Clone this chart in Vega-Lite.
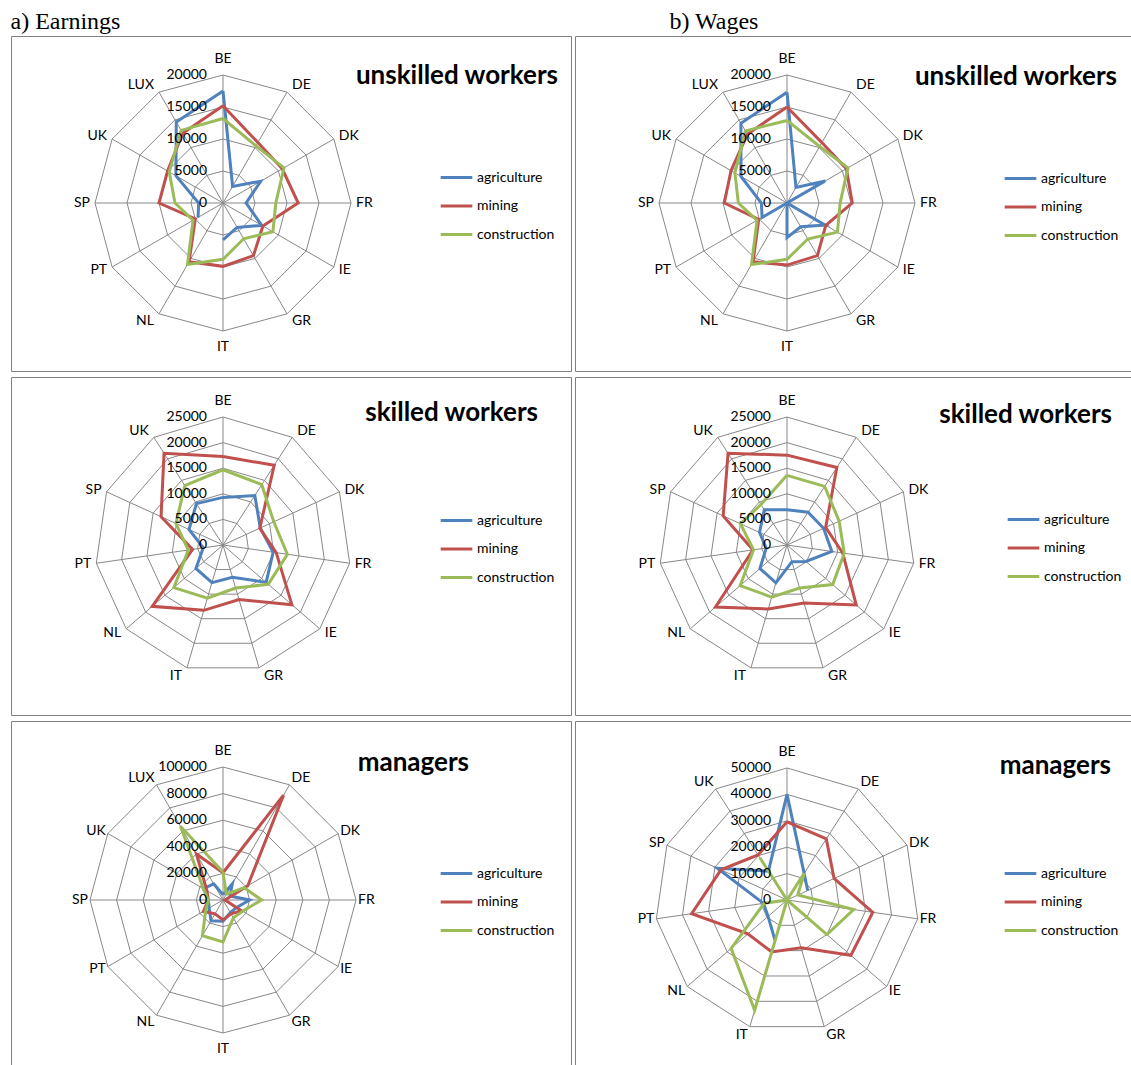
{
"$schema":"https://vega.github.io/schema/vega-lite/v6.json",
"padding":{"left":10,"top":9,"right":0,"bottom":0},
"autosize":{"type":"pad"},
"background":"white",
"config":{"view":{"stroke":"#808080","strokeWidth":1},"text":{"font":"Lato"}},
"datasets":{
"cats":[
{"p":"EU","i":0,"c":"BE","lv":[5000,10000,15000,20000]},{"p":"EU","i":1,"c":"DE","lv":[5000,10000,15000,20000]},{"p":"EU","i":2,"c":"DK","lv":[5000,10000,15000,20000]},{"p":"EU","i":3,"c":"FR","lv":[5000,10000,15000,20000]},{"p":"EU","i":4,"c":"IE","lv":[5000,10000,15000,20000]},{"p":"EU","i":5,"c":"GR","lv":[5000,10000,15000,20000]},{"p":"EU","i":6,"c":"IT","lv":[5000,10000,15000,20000]},{"p":"EU","i":7,"c":"NL","lv":[5000,10000,15000,20000]},{"p":"EU","i":8,"c":"PT","lv":[5000,10000,15000,20000]},{"p":"EU","i":9,"c":"SP","lv":[5000,10000,15000,20000]},{"p":"EU","i":10,"c":"UK","lv":[5000,10000,15000,20000]},{"p":"EU","i":11,"c":"LUX","lv":[5000,10000,15000,20000]},
{"p":"WU","i":0,"c":"BE","lv":[5000,10000,15000,20000]},{"p":"WU","i":1,"c":"DE","lv":[5000,10000,15000,20000]},{"p":"WU","i":2,"c":"DK","lv":[5000,10000,15000,20000]},{"p":"WU","i":3,"c":"FR","lv":[5000,10000,15000,20000]},{"p":"WU","i":4,"c":"IE","lv":[5000,10000,15000,20000]},{"p":"WU","i":5,"c":"GR","lv":[5000,10000,15000,20000]},{"p":"WU","i":6,"c":"IT","lv":[5000,10000,15000,20000]},{"p":"WU","i":7,"c":"NL","lv":[5000,10000,15000,20000]},{"p":"WU","i":8,"c":"PT","lv":[5000,10000,15000,20000]},{"p":"WU","i":9,"c":"SP","lv":[5000,10000,15000,20000]},{"p":"WU","i":10,"c":"UK","lv":[5000,10000,15000,20000]},{"p":"WU","i":11,"c":"LUX","lv":[5000,10000,15000,20000]},
{"p":"ES","i":0,"c":"BE","lv":[5000,10000,15000,20000,25000]},{"p":"ES","i":1,"c":"DE","lv":[5000,10000,15000,20000,25000]},{"p":"ES","i":2,"c":"DK","lv":[5000,10000,15000,20000,25000]},{"p":"ES","i":3,"c":"FR","lv":[5000,10000,15000,20000,25000]},{"p":"ES","i":4,"c":"IE","lv":[5000,10000,15000,20000,25000]},{"p":"ES","i":5,"c":"GR","lv":[5000,10000,15000,20000,25000]},{"p":"ES","i":6,"c":"IT","lv":[5000,10000,15000,20000,25000]},{"p":"ES","i":7,"c":"NL","lv":[5000,10000,15000,20000,25000]},{"p":"ES","i":8,"c":"PT","lv":[5000,10000,15000,20000,25000]},{"p":"ES","i":9,"c":"SP","lv":[5000,10000,15000,20000,25000]},{"p":"ES","i":10,"c":"UK","lv":[5000,10000,15000,20000,25000]},
{"p":"WS","i":0,"c":"BE","lv":[5000,10000,15000,20000,25000]},{"p":"WS","i":1,"c":"DE","lv":[5000,10000,15000,20000,25000]},{"p":"WS","i":2,"c":"DK","lv":[5000,10000,15000,20000,25000]},{"p":"WS","i":3,"c":"FR","lv":[5000,10000,15000,20000,25000]},{"p":"WS","i":4,"c":"IE","lv":[5000,10000,15000,20000,25000]},{"p":"WS","i":5,"c":"GR","lv":[5000,10000,15000,20000,25000]},{"p":"WS","i":6,"c":"IT","lv":[5000,10000,15000,20000,25000]},{"p":"WS","i":7,"c":"NL","lv":[5000,10000,15000,20000,25000]},{"p":"WS","i":8,"c":"PT","lv":[5000,10000,15000,20000,25000]},{"p":"WS","i":9,"c":"SP","lv":[5000,10000,15000,20000,25000]},{"p":"WS","i":10,"c":"UK","lv":[5000,10000,15000,20000,25000]},
{"p":"EM","i":0,"c":"BE","lv":[20000,40000,60000,80000,100000]},{"p":"EM","i":1,"c":"DE","lv":[20000,40000,60000,80000,100000]},{"p":"EM","i":2,"c":"DK","lv":[20000,40000,60000,80000,100000]},{"p":"EM","i":3,"c":"FR","lv":[20000,40000,60000,80000,100000]},{"p":"EM","i":4,"c":"IE","lv":[20000,40000,60000,80000,100000]},{"p":"EM","i":5,"c":"GR","lv":[20000,40000,60000,80000,100000]},{"p":"EM","i":6,"c":"IT","lv":[20000,40000,60000,80000,100000]},{"p":"EM","i":7,"c":"NL","lv":[20000,40000,60000,80000,100000]},{"p":"EM","i":8,"c":"PT","lv":[20000,40000,60000,80000,100000]},{"p":"EM","i":9,"c":"SP","lv":[20000,40000,60000,80000,100000]},{"p":"EM","i":10,"c":"UK","lv":[20000,40000,60000,80000,100000]},{"p":"EM","i":11,"c":"LUX","lv":[20000,40000,60000,80000,100000]},
{"p":"WM","i":0,"c":"BE","lv":[10000,20000,30000,40000,50000]},{"p":"WM","i":1,"c":"DE","lv":[10000,20000,30000,40000,50000]},{"p":"WM","i":2,"c":"DK","lv":[10000,20000,30000,40000,50000]},{"p":"WM","i":3,"c":"FR","lv":[10000,20000,30000,40000,50000]},{"p":"WM","i":4,"c":"IE","lv":[10000,20000,30000,40000,50000]},{"p":"WM","i":5,"c":"GR","lv":[10000,20000,30000,40000,50000]},{"p":"WM","i":6,"c":"IT","lv":[10000,20000,30000,40000,50000]},{"p":"WM","i":7,"c":"NL","lv":[10000,20000,30000,40000,50000]},{"p":"WM","i":8,"c":"PT","lv":[10000,20000,30000,40000,50000]},{"p":"WM","i":9,"c":"SP","lv":[10000,20000,30000,40000,50000]},{"p":"WM","i":10,"c":"UK","lv":[10000,20000,30000,40000,50000]}
],
"ticks":[
{"p":"EU","t":0},{"p":"EU","t":5000},{"p":"EU","t":10000},{"p":"EU","t":15000},{"p":"EU","t":20000},
{"p":"WU","t":0},{"p":"WU","t":5000},{"p":"WU","t":10000},{"p":"WU","t":15000},{"p":"WU","t":20000},
{"p":"ES","t":0},{"p":"ES","t":5000},{"p":"ES","t":10000},{"p":"ES","t":15000},{"p":"ES","t":20000},{"p":"ES","t":25000},
{"p":"WS","t":0},{"p":"WS","t":5000},{"p":"WS","t":10000},{"p":"WS","t":15000},{"p":"WS","t":20000},{"p":"WS","t":25000},
{"p":"EM","t":0},{"p":"EM","t":20000},{"p":"EM","t":40000},{"p":"EM","t":60000},{"p":"EM","t":80000},{"p":"EM","t":100000},
{"p":"WM","t":0},{"p":"WM","t":10000},{"p":"WM","t":20000},{"p":"WM","t":30000},{"p":"WM","t":40000},{"p":"WM","t":50000}
],
"series":[
{"p":"EU","s":"agriculture","i":0,"v":17500},{"p":"EU","s":"agriculture","i":1,"v":3000},{"p":"EU","s":"agriculture","i":2,"v":6800},{"p":"EU","s":"agriculture","i":3,"v":3600},{"p":"EU","s":"agriculture","i":4,"v":7000},{"p":"EU","s":"agriculture","i":5,"v":4400},{"p":"EU","s":"agriculture","i":6,"v":5750},{"p":"EU","s":"agriculture","i":7,"v":null},{"p":"EU","s":"agriculture","i":8,"v":4500},{"p":"EU","s":"agriculture","i":9,"v":3800},{"p":"EU","s":"agriculture","i":10,"v":8500},{"p":"EU","s":"agriculture","i":11,"v":14600},{"p":"EU","s":"agriculture","i":12,"v":17500},
{"p":"EU","s":"mining","i":0,"v":15200},{"p":"EU","s":"mining","i":1,"v":10900},{"p":"EU","s":"mining","i":2,"v":10700},{"p":"EU","s":"mining","i":3,"v":11750},{"p":"EU","s":"mining","i":4,"v":7200},{"p":"EU","s":"mining","i":5,"v":9500},{"p":"EU","s":"mining","i":6,"v":9900},{"p":"EU","s":"mining","i":7,"v":10600},{"p":"EU","s":"mining","i":8,"v":5000},{"p":"EU","s":"mining","i":9,"v":10000},{"p":"EU","s":"mining","i":10,"v":10000},{"p":"EU","s":"mining","i":11,"v":12600},{"p":"EU","s":"mining","i":12,"v":15200},
{"p":"EU","s":"construction","i":0,"v":13200},{"p":"EU","s":"construction","i":1,"v":10300},{"p":"EU","s":"construction","i":2,"v":11000},{"p":"EU","s":"construction","i":3,"v":8250},{"p":"EU","s":"construction","i":4,"v":9000},{"p":"EU","s":"construction","i":5,"v":6450},{"p":"EU","s":"construction","i":6,"v":8800},{"p":"EU","s":"construction","i":7,"v":11100},{"p":"EU","s":"construction","i":8,"v":5400},{"p":"EU","s":"construction","i":9,"v":7500},{"p":"EU","s":"construction","i":10,"v":9700},{"p":"EU","s":"construction","i":11,"v":13100},{"p":"EU","s":"construction","i":12,"v":13200},
{"p":"WU","s":"agriculture","i":0,"v":17300},{"p":"WU","s":"agriculture","i":1,"v":2800},{"p":"WU","s":"agriculture","i":2,"v":6900},{"p":"WU","s":"agriculture","i":3,"v":0},{"p":"WU","s":"agriculture","i":4,"v":6900},{"p":"WU","s":"agriculture","i":5,"v":4300},{"p":"WU","s":"agriculture","i":6,"v":5400},{"p":"WU","s":"agriculture","i":7,"v":0},{"p":"WU","s":"agriculture","i":8,"v":4500},{"p":"WU","s":"agriculture","i":9,"v":4000},{"p":"WU","s":"agriculture","i":10,"v":8300},{"p":"WU","s":"agriculture","i":11,"v":14400},{"p":"WU","s":"agriculture","i":12,"v":17300},
{"p":"WU","s":"mining","i":0,"v":15000},{"p":"WU","s":"mining","i":1,"v":10900},{"p":"WU","s":"mining","i":2,"v":10700},{"p":"WU","s":"mining","i":3,"v":10200},{"p":"WU","s":"mining","i":4,"v":7000},{"p":"WU","s":"mining","i":5,"v":9500},{"p":"WU","s":"mining","i":6,"v":9700},{"p":"WU","s":"mining","i":7,"v":10600},{"p":"WU","s":"mining","i":8,"v":5100},{"p":"WU","s":"mining","i":9,"v":9800},{"p":"WU","s":"mining","i":10,"v":10100},{"p":"WU","s":"mining","i":11,"v":12400},{"p":"WU","s":"mining","i":12,"v":15000},
{"p":"WU","s":"construction","i":0,"v":12900},{"p":"WU","s":"construction","i":1,"v":10200},{"p":"WU","s":"construction","i":2,"v":11000},{"p":"WU","s":"construction","i":3,"v":8300},{"p":"WU","s":"construction","i":4,"v":9100},{"p":"WU","s":"construction","i":5,"v":6500},{"p":"WU","s":"construction","i":6,"v":8800},{"p":"WU","s":"construction","i":7,"v":11100},{"p":"WU","s":"construction","i":8,"v":5400},{"p":"WU","s":"construction","i":9,"v":7600},{"p":"WU","s":"construction","i":10,"v":9400},{"p":"WU","s":"construction","i":11,"v":13000},{"p":"WU","s":"construction","i":12,"v":12900},
{"p":"ES","s":"agriculture","i":0,"v":9300},{"p":"ES","s":"agriculture","i":1,"v":11500},{"p":"ES","s":"agriculture","i":2,"v":8000},{"p":"ES","s":"agriculture","i":3,"v":9900},{"p":"ES","s":"agriculture","i":4,"v":11150},{"p":"ES","s":"agriculture","i":5,"v":6550},{"p":"ES","s":"agriculture","i":6,"v":7650},{"p":"ES","s":"agriculture","i":7,"v":7000},{"p":"ES","s":"agriculture","i":8,"v":3900},{"p":"ES","s":"agriculture","i":9,"v":7300},{"p":"ES","s":"agriculture","i":10,"v":9600},{"p":"ES","s":"agriculture","i":11,"v":9300},
{"p":"ES","s":"mining","i":0,"v":17300},{"p":"ES","s":"mining","i":1,"v":18500},{"p":"ES","s":"mining","i":2,"v":7900},{"p":"ES","s":"mining","i":3,"v":10500},{"p":"ES","s":"mining","i":4,"v":17800},{"p":"ES","s":"mining","i":5,"v":11100},{"p":"ES","s":"mining","i":6,"v":13300},{"p":"ES","s":"mining","i":7,"v":18300},{"p":"ES","s":"mining","i":8,"v":6000},{"p":"ES","s":"mining","i":9,"v":13300},{"p":"ES","s":"mining","i":10,"v":21300},{"p":"ES","s":"mining","i":11,"v":17300},
{"p":"ES","s":"construction","i":0,"v":14700},{"p":"ES","s":"construction","i":1,"v":14000},{"p":"ES","s":"construction","i":2,"v":10900},{"p":"ES","s":"construction","i":3,"v":12700},{"p":"ES","s":"construction","i":4,"v":11700},{"p":"ES","s":"construction","i":5,"v":8750},{"p":"ES","s":"construction","i":6,"v":10800},{"p":"ES","s":"construction","i":7,"v":12700},{"p":"ES","s":"construction","i":8,"v":6850},{"p":"ES","s":"construction","i":9,"v":10100},{"p":"ES","s":"construction","i":10,"v":13800},{"p":"ES","s":"construction","i":11,"v":14700},
{"p":"WS","s":"agriculture","i":0,"v":6900},{"p":"WS","s":"agriculture","i":1,"v":7600},{"p":"WS","s":"agriculture","i":2,"v":7850},{"p":"WS","s":"agriculture","i":3,"v":8850},{"p":"WS","s":"agriculture","i":4,"v":4900},{"p":"WS","s":"agriculture","i":5,"v":3400},{"p":"WS","s":"agriculture","i":6,"v":7700},{"p":"WS","s":"agriculture","i":7,"v":7000},{"p":"WS","s":"agriculture","i":8,"v":4100},{"p":"WS","s":"agriculture","i":9,"v":5900},{"p":"WS","s":"agriculture","i":10,"v":8200},{"p":"WS","s":"agriculture","i":11,"v":6900},
{"p":"WS","s":"mining","i":0,"v":17550},{"p":"WS","s":"mining","i":1,"v":18000},{"p":"WS","s":"mining","i":2,"v":8300},{"p":"WS","s":"mining","i":3,"v":11000},{"p":"WS","s":"mining","i":4,"v":17900},{"p":"WS","s":"mining","i":5,"v":11800},{"p":"WS","s":"mining","i":6,"v":13000},{"p":"WS","s":"mining","i":7,"v":18500},{"p":"WS","s":"mining","i":8,"v":6700},{"p":"WS","s":"mining","i":9,"v":13700},{"p":"WS","s":"mining","i":10,"v":21300},{"p":"WS","s":"mining","i":11,"v":17550},
{"p":"WS","s":"construction","i":0,"v":13600},{"p":"WS","s":"construction","i":1,"v":13600},{"p":"WS","s":"construction","i":2,"v":11200},{"p":"WS","s":"construction","i":3,"v":11300},{"p":"WS","s":"construction","i":4,"v":11800},{"p":"WS","s":"construction","i":5,"v":8750},{"p":"WS","s":"construction","i":6,"v":10600},{"p":"WS","s":"construction","i":7,"v":12100},{"p":"WS","s":"construction","i":8,"v":6600},{"p":"WS","s":"construction","i":9,"v":10000},{"p":"WS","s":"construction","i":10,"v":9400},{"p":"WS","s":"construction","i":11,"v":13600},
{"p":"EM","s":"agriculture","i":0,"v":4000},{"p":"EM","s":"agriculture","i":1,"v":14000},{"p":"EM","s":"agriculture","i":2,"v":6000},{"p":"EM","s":"agriculture","i":3,"v":20000},{"p":"EM","s":"agriculture","i":4,"v":11500},{"p":"EM","s":"agriculture","i":5,"v":11000},{"p":"EM","s":"agriculture","i":6,"v":16000},{"p":"EM","s":"agriculture","i":7,"v":18000},{"p":"EM","s":"agriculture","i":8,"v":12000},{"p":"EM","s":"agriculture","i":9,"v":11000},{"p":"EM","s":"agriculture","i":10,"v":17000},{"p":"EM","s":"agriculture","i":11,"v":14000},{"p":"EM","s":"agriculture","i":12,"v":4000},
{"p":"EM","s":"mining","i":0,"v":20500},{"p":"EM","s":"mining","i":1,"v":91000},{"p":"EM","s":"mining","i":2,"v":21500},{"p":"EM","s":"mining","i":3,"v":1500},{"p":"EM","s":"mining","i":4,"v":16000},{"p":"EM","s":"mining","i":5,"v":12000},{"p":"EM","s":"mining","i":6,"v":15000},{"p":"EM","s":"mining","i":7,"v":12000},{"p":"EM","s":"mining","i":8,"v":17000},{"p":"EM","s":"mining","i":9,"v":11000},{"p":"EM","s":"mining","i":10,"v":14000},{"p":"EM","s":"mining","i":11,"v":40000},{"p":"EM","s":"mining","i":12,"v":20500},
{"p":"EM","s":"construction","i":0,"v":21000},{"p":"EM","s":"construction","i":1,"v":5000},{"p":"EM","s":"construction","i":2,"v":18500},{"p":"EM","s":"construction","i":3,"v":29000},{"p":"EM","s":"construction","i":4,"v":17000},{"p":"EM","s":"construction","i":5,"v":15500},{"p":"EM","s":"construction","i":6,"v":31500},{"p":"EM","s":"construction","i":7,"v":31000},{"p":"EM","s":"construction","i":8,"v":15000},{"p":"EM","s":"construction","i":9,"v":11000},{"p":"EM","s":"construction","i":10,"v":17000},{"p":"EM","s":"construction","i":11,"v":64000},{"p":"EM","s":"construction","i":12,"v":21000},
{"p":"WM","s":"agriculture","i":0,"v":40000},{"p":"WM","s":"agriculture","i":1,"v":12000},{"p":"WM","s":"agriculture","i":2,"v":8600},{"p":"WM","s":"agriculture","i":3,"v":null},{"p":"WM","s":"agriculture","i":4,"v":null},{"p":"WM","s":"agriculture","i":5,"v":null},{"p":"WM","s":"agriculture","i":6,"v":16000},{"p":"WM","s":"agriculture","i":7,"v":9500},{"p":"WM","s":"agriculture","i":8,"v":9000},{"p":"WM","s":"agriculture","i":9,"v":29000},{"p":"WM","s":"agriculture","i":10,"v":13000},{"p":"WM","s":"agriculture","i":11,"v":40000},
{"p":"WM","s":"mining","i":0,"v":29600},{"p":"WM","s":"mining","i":1,"v":27500},{"p":"WM","s":"mining","i":2,"v":19600},{"p":"WM","s":"mining","i":3,"v":32800},{"p":"WM","s":"mining","i":4,"v":32000},{"p":"WM","s":"mining","i":5,"v":18900},{"p":"WM","s":"mining","i":6,"v":20500},{"p":"WM","s":"mining","i":7,"v":19600},{"p":"WM","s":"mining","i":8,"v":36500},{"p":"WM","s":"mining","i":9,"v":27500},{"p":"WM","s":"mining","i":10,"v":20300},{"p":"WM","s":"mining","i":11,"v":29600},
{"p":"WM","s":"construction","i":0,"v":0},{"p":"WM","s":"construction","i":1,"v":12000},{"p":"WM","s":"construction","i":2,"v":4500},{"p":"WM","s":"construction","i":3,"v":25500},{"p":"WM","s":"construction","i":4,"v":20000},{"p":"WM","s":"construction","i":5,"v":0},{"p":"WM","s":"construction","i":6,"v":43500},{"p":"WM","s":"construction","i":7,"v":28000},{"p":"WM","s":"construction","i":8,"v":8700},{"p":"WM","s":"construction","i":9,"v":0},{"p":"WM","s":"construction","i":10,"v":19000},{"p":"WM","s":"construction","i":11,"v":0}
]
},
"hconcat":[
{"title":{"text":"a) Earnings","anchor":"start","font":"Liberation Serif","fontSize":24,"fontWeight":"normal","color":"black","baseline":"alphabetic","offset":-17},
 "spacing":4,
 "resolve":{"scale":{"x":"independent","y":"independent","color":"independent"},"legend":{"color":"independent"}},
 "vconcat":[
{"width":560,"height":335,
 "title":{"text":"unskilled workers","anchor":"end","orient":"top","offset":-74,"dx":-13,"baseline":"alphabetic","font":"Lato","fontSize":26,"fontWeight":"bold","color":"black"},
 "encoding":{"x":{"field":"x","type":"quantitative","scale":{"domain":[-1.65625,2.71875],"nice":false,"zero":false},"axis":null},
             "y":{"field":"y","type":"quantitative","scale":{"domain":[-1.3125,1.3047],"nice":false,"zero":false},"axis":null}},
 "layer":[
  {"data":{"name":"cats"},"transform":[{"filter":"datum.p==='EU'"},{"flatten":["lv"]},{"calculate":"2*PI*datum.i/12","as":"a"},{"calculate":"datum.lv/20000*sin(datum.a)","as":"x"},{"calculate":"datum.lv/20000*cos(datum.a)","as":"y"}],
   "mark":{"type":"line","interpolate":"linear-closed","color":"#888888","strokeWidth":1},"encoding":{"detail":{"field":"lv","type":"nominal"},"order":{"field":"i","type":"quantitative"}}},
  {"data":{"name":"cats"},"transform":[{"filter":"datum.p==='EU'"},{"calculate":"2*PI*datum.i/12","as":"a"},{"calculate":"0","as":"x"},{"calculate":"0","as":"y"},{"calculate":"sin(datum.a)","as":"x2"},{"calculate":"cos(datum.a)","as":"y2"}],
   "mark":{"type":"rule","color":"#888888","strokeWidth":1},"encoding":{"x2":{"field":"x2"},"y2":{"field":"y2"}}},
  {"data":{"name":"cats"},"transform":[{"filter":"datum.p==='EU'"},{"calculate":"2*PI*datum.i/12","as":"a"},{"filter":"abs(sin(datum.a))<0.01"},{"calculate":"sin(datum.a)","as":"x"},{"calculate":"cos(datum.a)*(1+16/128)","as":"y"}],
   "mark":{"type":"text","font":"Lato","fontSize":14,"color":"black","align":"center","baseline":"middle"},"encoding":{"text":{"field":"c","type":"nominal"}}},
  {"data":{"name":"cats"},"transform":[{"filter":"datum.p==='EU'"},{"calculate":"2*PI*datum.i/12","as":"a"},{"filter":"sin(datum.a)>=0.01"},{"calculate":"sin(datum.a)","as":"x"},{"calculate":"cos(datum.a)+(7*cos(datum.a)*abs(cos(datum.a))+2*cos(datum.a))/128","as":"y"}],
   "mark":{"type":"text","font":"Lato","fontSize":14,"color":"black","align":"left","baseline":"middle","dx":5},"encoding":{"text":{"field":"c","type":"nominal"}}},
  {"data":{"name":"cats"},"transform":[{"filter":"datum.p==='EU'"},{"calculate":"2*PI*datum.i/12","as":"a"},{"filter":"sin(datum.a)<=-0.01"},{"calculate":"sin(datum.a)","as":"x"},{"calculate":"cos(datum.a)+(7*cos(datum.a)*abs(cos(datum.a))+2*cos(datum.a))/128","as":"y"}],
   "mark":{"type":"text","font":"Lato","fontSize":14,"color":"black","align":"right","baseline":"middle","dx":-5},"encoding":{"text":{"field":"c","type":"nominal"}}},
  {"data":{"name":"series"},"transform":[{"filter":"datum.p==='EU'"},{"calculate":"2*PI*datum.i/12","as":"a"},{"calculate":"datum.v==null?null:datum.v/20000*sin(datum.a)","as":"x"},{"calculate":"datum.v==null?null:datum.v/20000*cos(datum.a)","as":"y"}],
   "mark":{"type":"line","strokeWidth":3,"invalid":"break-paths-filter-domains"},
   "encoding":{"order":{"field":"i","type":"quantitative"},"color":{"field":"s","type":"nominal","scale":{"domain":["agriculture","mining","construction"],"range":["#4F81BD","#C0504D","#9BBB59"]},
     "legend":{"orient":"none","legendX":428,"legendY":124,"title":null,"symbolType":"stroke","symbolSize":1000,"symbolStrokeWidth":3,"labelFont":"Lato","labelFontSize":14,"labelColor":"black","rowPadding":3.5,"labelOffset":3,"padding":0}}}},
  {"data":{"name":"ticks"},"transform":[{"filter":"datum.p==='EU'"},{"calculate":"0","as":"x"},{"calculate":"datum.t/20000","as":"y"}],
   "mark":{"type":"text","font":"Lato","fontSize":14,"color":"black","align":"right","baseline":"middle","dx":-16},"encoding":{"text":{"field":"t","type":"quantitative","format":"d"}}}
 ]},
{"width":560,"height":338,
 "title":{"text":"skilled workers","anchor":"end","orient":"top","offset":-70,"dx":-33,"baseline":"alphabetic","font":"Lato","fontSize":26,"fontWeight":"bold","color":"black"},
 "encoding":{"x":{"field":"x","type":"quantitative","scale":{"domain":[-1.65625,2.71875],"nice":false,"zero":false},"axis":null},
             "y":{"field":"y","type":"quantitative","scale":{"domain":[-1.328,1.3125],"nice":false,"zero":false},"axis":null}},
 "layer":[
  {"data":{"name":"cats"},"transform":[{"filter":"datum.p==='ES'"},{"flatten":["lv"]},{"calculate":"2*PI*datum.i/11","as":"a"},{"calculate":"datum.lv/25000*sin(datum.a)","as":"x"},{"calculate":"datum.lv/25000*cos(datum.a)","as":"y"}],
   "mark":{"type":"line","interpolate":"linear-closed","color":"#888888","strokeWidth":1},"encoding":{"detail":{"field":"lv","type":"nominal"},"order":{"field":"i","type":"quantitative"}}},
  {"data":{"name":"cats"},"transform":[{"filter":"datum.p==='ES'"},{"calculate":"2*PI*datum.i/11","as":"a"},{"calculate":"0","as":"x"},{"calculate":"0","as":"y"},{"calculate":"sin(datum.a)","as":"x2"},{"calculate":"cos(datum.a)","as":"y2"}],
   "mark":{"type":"rule","color":"#888888","strokeWidth":1},"encoding":{"x2":{"field":"x2"},"y2":{"field":"y2"}}},
  {"data":{"name":"cats"},"transform":[{"filter":"datum.p==='ES'"},{"calculate":"2*PI*datum.i/11","as":"a"},{"filter":"abs(sin(datum.a))<0.01"},{"calculate":"sin(datum.a)","as":"x"},{"calculate":"cos(datum.a)*(1+16/128)","as":"y"}],
   "mark":{"type":"text","font":"Lato","fontSize":14,"color":"black","align":"center","baseline":"middle"},"encoding":{"text":{"field":"c","type":"nominal"}}},
  {"data":{"name":"cats"},"transform":[{"filter":"datum.p==='ES'"},{"calculate":"2*PI*datum.i/11","as":"a"},{"filter":"sin(datum.a)>=0.01"},{"calculate":"sin(datum.a)","as":"x"},{"calculate":"cos(datum.a)+(7*cos(datum.a)*abs(cos(datum.a))+2*cos(datum.a))/128","as":"y"}],
   "mark":{"type":"text","font":"Lato","fontSize":14,"color":"black","align":"left","baseline":"middle","dx":5},"encoding":{"text":{"field":"c","type":"nominal"}}},
  {"data":{"name":"cats"},"transform":[{"filter":"datum.p==='ES'"},{"calculate":"2*PI*datum.i/11","as":"a"},{"filter":"sin(datum.a)<=-0.01"},{"calculate":"sin(datum.a)","as":"x"},{"calculate":"cos(datum.a)+(7*cos(datum.a)*abs(cos(datum.a))+2*cos(datum.a))/128","as":"y"}],
   "mark":{"type":"text","font":"Lato","fontSize":14,"color":"black","align":"right","baseline":"middle","dx":-5},"encoding":{"text":{"field":"c","type":"nominal"}}},
  {"data":{"name":"series"},"transform":[{"filter":"datum.p==='ES'"},{"calculate":"2*PI*datum.i/11","as":"a"},{"calculate":"datum.v==null?null:datum.v/25000*sin(datum.a)","as":"x"},{"calculate":"datum.v==null?null:datum.v/25000*cos(datum.a)","as":"y"}],
   "mark":{"type":"line","strokeWidth":3,"invalid":"break-paths-filter-domains"},
   "encoding":{"order":{"field":"i","type":"quantitative"},"color":{"field":"s","type":"nominal","scale":{"domain":["agriculture","mining","construction"],"range":["#4F81BD","#C0504D","#9BBB59"]},
     "legend":{"orient":"none","legendX":428,"legendY":126,"title":null,"symbolType":"stroke","symbolSize":1000,"symbolStrokeWidth":3,"labelFont":"Lato","labelFontSize":14,"labelColor":"black","rowPadding":3.5,"labelOffset":3,"padding":0}}}},
  {"data":{"name":"ticks"},"transform":[{"filter":"datum.p==='ES'"},{"calculate":"0","as":"x"},{"calculate":"datum.t/25000","as":"y"}],
   "mark":{"type":"text","font":"Lato","fontSize":14,"color":"black","align":"right","baseline":"middle","dx":-16},"encoding":{"text":{"field":"t","type":"quantitative","format":"d"}}}
 ]},
{"width":560,"height":345,
 "title":{"text":"managers","anchor":"end","orient":"top","offset":-76,"dx":-102,"baseline":"alphabetic","font":"Lato","fontSize":26,"fontWeight":"bold","color":"black"},
 "encoding":{"x":{"field":"x","type":"quantitative","scale":{"domain":[-1.594,2.6165],"nice":false,"zero":false},"axis":null},
             "y":{"field":"y","type":"quantitative","scale":{"domain":[-1.248,1.3459],"nice":false,"zero":false},"axis":null}},
 "layer":[
  {"data":{"name":"cats"},"transform":[{"filter":"datum.p==='EM'"},{"flatten":["lv"]},{"calculate":"2*PI*datum.i/12","as":"a"},{"calculate":"datum.lv/100000*sin(datum.a)","as":"x"},{"calculate":"datum.lv/100000*cos(datum.a)","as":"y"}],
   "mark":{"type":"line","interpolate":"linear-closed","color":"#888888","strokeWidth":1},"encoding":{"detail":{"field":"lv","type":"nominal"},"order":{"field":"i","type":"quantitative"}}},
  {"data":{"name":"cats"},"transform":[{"filter":"datum.p==='EM'"},{"calculate":"2*PI*datum.i/12","as":"a"},{"calculate":"0","as":"x"},{"calculate":"0","as":"y"},{"calculate":"sin(datum.a)","as":"x2"},{"calculate":"cos(datum.a)","as":"y2"}],
   "mark":{"type":"rule","color":"#888888","strokeWidth":1},"encoding":{"x2":{"field":"x2"},"y2":{"field":"y2"}}},
  {"data":{"name":"cats"},"transform":[{"filter":"datum.p==='EM'"},{"calculate":"2*PI*datum.i/12","as":"a"},{"filter":"abs(sin(datum.a))<0.01"},{"calculate":"sin(datum.a)","as":"x"},{"calculate":"cos(datum.a)*(1+16/133)","as":"y"}],
   "mark":{"type":"text","font":"Lato","fontSize":14,"color":"black","align":"center","baseline":"middle"},"encoding":{"text":{"field":"c","type":"nominal"}}},
  {"data":{"name":"cats"},"transform":[{"filter":"datum.p==='EM'"},{"calculate":"2*PI*datum.i/12","as":"a"},{"filter":"sin(datum.a)>=0.01"},{"calculate":"sin(datum.a)","as":"x"},{"calculate":"cos(datum.a)+(7*cos(datum.a)*abs(cos(datum.a))+2*cos(datum.a))/133","as":"y"}],
   "mark":{"type":"text","font":"Lato","fontSize":14,"color":"black","align":"left","baseline":"middle","dx":2},"encoding":{"text":{"field":"c","type":"nominal"}}},
  {"data":{"name":"cats"},"transform":[{"filter":"datum.p==='EM'"},{"calculate":"2*PI*datum.i/12","as":"a"},{"filter":"sin(datum.a)<=-0.01"},{"calculate":"sin(datum.a)","as":"x"},{"calculate":"cos(datum.a)+(7*cos(datum.a)*abs(cos(datum.a))+2*cos(datum.a))/133","as":"y"}],
   "mark":{"type":"text","font":"Lato","fontSize":14,"color":"black","align":"right","baseline":"middle","dx":-2},"encoding":{"text":{"field":"c","type":"nominal"}}},
  {"data":{"name":"series"},"transform":[{"filter":"datum.p==='EM'"},{"calculate":"2*PI*datum.i/12","as":"a"},{"calculate":"datum.v==null?null:datum.v/100000*sin(datum.a)","as":"x"},{"calculate":"datum.v==null?null:datum.v/100000*cos(datum.a)","as":"y"}],
   "mark":{"type":"line","strokeWidth":3,"invalid":"break-paths-filter-domains"},
   "encoding":{"order":{"field":"i","type":"quantitative"},"color":{"field":"s","type":"nominal","scale":{"domain":["agriculture","mining","construction"],"range":["#4F81BD","#C0504D","#9BBB59"]},
     "legend":{"orient":"none","legendX":428,"legendY":135,"title":null,"symbolType":"stroke","symbolSize":1000,"symbolStrokeWidth":3,"labelFont":"Lato","labelFontSize":14,"labelColor":"black","rowPadding":3.5,"labelOffset":3,"padding":0}}}},
  {"data":{"name":"ticks"},"transform":[{"filter":"datum.p==='EM'"},{"calculate":"0","as":"x"},{"calculate":"datum.t/100000","as":"y"}],
   "mark":{"type":"text","font":"Lato","fontSize":14,"color":"black","align":"right","baseline":"middle","dx":-16},"encoding":{"text":{"field":"t","type":"quantitative","format":"d"}}}
 ]}
 ]},
{"title":{"text":"b) Wages","anchor":"start","font":"Liberation Serif","fontSize":24,"fontWeight":"normal","color":"black","baseline":"alphabetic","offset":-17,"dx":95},
 "spacing":4,
 "resolve":{"scale":{"x":"independent","y":"independent","color":"independent"},"legend":{"color":"independent"}},
 "vconcat":[
{"width":560,"height":335,
 "title":{"text":"unskilled workers","anchor":"end","orient":"top","offset":-75,"dx":-18,"baseline":"alphabetic","font":"Lato","fontSize":26,"fontWeight":"bold","color":"black"},
 "encoding":{"x":{"field":"x","type":"quantitative","scale":{"domain":[-1.65625,2.71875],"nice":false,"zero":false},"axis":null},
             "y":{"field":"y","type":"quantitative","scale":{"domain":[-1.3125,1.3047],"nice":false,"zero":false},"axis":null}},
 "layer":[
  {"data":{"name":"cats"},"transform":[{"filter":"datum.p==='WU'"},{"flatten":["lv"]},{"calculate":"2*PI*datum.i/12","as":"a"},{"calculate":"datum.lv/20000*sin(datum.a)","as":"x"},{"calculate":"datum.lv/20000*cos(datum.a)","as":"y"}],
   "mark":{"type":"line","interpolate":"linear-closed","color":"#888888","strokeWidth":1},"encoding":{"detail":{"field":"lv","type":"nominal"},"order":{"field":"i","type":"quantitative"}}},
  {"data":{"name":"cats"},"transform":[{"filter":"datum.p==='WU'"},{"calculate":"2*PI*datum.i/12","as":"a"},{"calculate":"0","as":"x"},{"calculate":"0","as":"y"},{"calculate":"sin(datum.a)","as":"x2"},{"calculate":"cos(datum.a)","as":"y2"}],
   "mark":{"type":"rule","color":"#888888","strokeWidth":1},"encoding":{"x2":{"field":"x2"},"y2":{"field":"y2"}}},
  {"data":{"name":"cats"},"transform":[{"filter":"datum.p==='WU'"},{"calculate":"2*PI*datum.i/12","as":"a"},{"filter":"abs(sin(datum.a))<0.01"},{"calculate":"sin(datum.a)","as":"x"},{"calculate":"cos(datum.a)*(1+16/128)","as":"y"}],
   "mark":{"type":"text","font":"Lato","fontSize":14,"color":"black","align":"center","baseline":"middle"},"encoding":{"text":{"field":"c","type":"nominal"}}},
  {"data":{"name":"cats"},"transform":[{"filter":"datum.p==='WU'"},{"calculate":"2*PI*datum.i/12","as":"a"},{"filter":"sin(datum.a)>=0.01"},{"calculate":"sin(datum.a)","as":"x"},{"calculate":"cos(datum.a)+(7*cos(datum.a)*abs(cos(datum.a))+2*cos(datum.a))/128","as":"y"}],
   "mark":{"type":"text","font":"Lato","fontSize":14,"color":"black","align":"left","baseline":"middle","dx":5},"encoding":{"text":{"field":"c","type":"nominal"}}},
  {"data":{"name":"cats"},"transform":[{"filter":"datum.p==='WU'"},{"calculate":"2*PI*datum.i/12","as":"a"},{"filter":"sin(datum.a)<=-0.01"},{"calculate":"sin(datum.a)","as":"x"},{"calculate":"cos(datum.a)+(7*cos(datum.a)*abs(cos(datum.a))+2*cos(datum.a))/128","as":"y"}],
   "mark":{"type":"text","font":"Lato","fontSize":14,"color":"black","align":"right","baseline":"middle","dx":-5},"encoding":{"text":{"field":"c","type":"nominal"}}},
  {"data":{"name":"series"},"transform":[{"filter":"datum.p==='WU'"},{"calculate":"2*PI*datum.i/12","as":"a"},{"calculate":"datum.v==null?null:datum.v/20000*sin(datum.a)","as":"x"},{"calculate":"datum.v==null?null:datum.v/20000*cos(datum.a)","as":"y"}],
   "mark":{"type":"line","strokeWidth":3,"invalid":"break-paths-filter-domains"},
   "encoding":{"order":{"field":"i","type":"quantitative"},"color":{"field":"s","type":"nominal","scale":{"domain":["agriculture","mining","construction"],"range":["#4F81BD","#C0504D","#9BBB59"]},
     "legend":{"orient":"none","legendX":428,"legendY":125,"title":null,"symbolType":"stroke","symbolSize":1000,"symbolStrokeWidth":3,"labelFont":"Lato","labelFontSize":14,"labelColor":"black","rowPadding":3.5,"labelOffset":3,"padding":0}}}},
  {"data":{"name":"ticks"},"transform":[{"filter":"datum.p==='WU'"},{"calculate":"0","as":"x"},{"calculate":"datum.t/20000","as":"y"}],
   "mark":{"type":"text","font":"Lato","fontSize":14,"color":"black","align":"right","baseline":"middle","dx":-16},"encoding":{"text":{"field":"t","type":"quantitative","format":"d"}}}
 ]},
{"width":560,"height":338,
 "title":{"text":"skilled workers","anchor":"end","orient":"top","offset":-72,"dx":-23,"baseline":"alphabetic","font":"Lato","fontSize":26,"fontWeight":"bold","color":"black"},
 "encoding":{"x":{"field":"x","type":"quantitative","scale":{"domain":[-1.65625,2.71875],"nice":false,"zero":false},"axis":null},
             "y":{"field":"y","type":"quantitative","scale":{"domain":[-1.328,1.3125],"nice":false,"zero":false},"axis":null}},
 "layer":[
  {"data":{"name":"cats"},"transform":[{"filter":"datum.p==='WS'"},{"flatten":["lv"]},{"calculate":"2*PI*datum.i/11","as":"a"},{"calculate":"datum.lv/25000*sin(datum.a)","as":"x"},{"calculate":"datum.lv/25000*cos(datum.a)","as":"y"}],
   "mark":{"type":"line","interpolate":"linear-closed","color":"#888888","strokeWidth":1},"encoding":{"detail":{"field":"lv","type":"nominal"},"order":{"field":"i","type":"quantitative"}}},
  {"data":{"name":"cats"},"transform":[{"filter":"datum.p==='WS'"},{"calculate":"2*PI*datum.i/11","as":"a"},{"calculate":"0","as":"x"},{"calculate":"0","as":"y"},{"calculate":"sin(datum.a)","as":"x2"},{"calculate":"cos(datum.a)","as":"y2"}],
   "mark":{"type":"rule","color":"#888888","strokeWidth":1},"encoding":{"x2":{"field":"x2"},"y2":{"field":"y2"}}},
  {"data":{"name":"cats"},"transform":[{"filter":"datum.p==='WS'"},{"calculate":"2*PI*datum.i/11","as":"a"},{"filter":"abs(sin(datum.a))<0.01"},{"calculate":"sin(datum.a)","as":"x"},{"calculate":"cos(datum.a)*(1+16/128)","as":"y"}],
   "mark":{"type":"text","font":"Lato","fontSize":14,"color":"black","align":"center","baseline":"middle"},"encoding":{"text":{"field":"c","type":"nominal"}}},
  {"data":{"name":"cats"},"transform":[{"filter":"datum.p==='WS'"},{"calculate":"2*PI*datum.i/11","as":"a"},{"filter":"sin(datum.a)>=0.01"},{"calculate":"sin(datum.a)","as":"x"},{"calculate":"cos(datum.a)+(7*cos(datum.a)*abs(cos(datum.a))+2*cos(datum.a))/128","as":"y"}],
   "mark":{"type":"text","font":"Lato","fontSize":14,"color":"black","align":"left","baseline":"middle","dx":5},"encoding":{"text":{"field":"c","type":"nominal"}}},
  {"data":{"name":"cats"},"transform":[{"filter":"datum.p==='WS'"},{"calculate":"2*PI*datum.i/11","as":"a"},{"filter":"sin(datum.a)<=-0.01"},{"calculate":"sin(datum.a)","as":"x"},{"calculate":"cos(datum.a)+(7*cos(datum.a)*abs(cos(datum.a))+2*cos(datum.a))/128","as":"y"}],
   "mark":{"type":"text","font":"Lato","fontSize":14,"color":"black","align":"right","baseline":"middle","dx":-5},"encoding":{"text":{"field":"c","type":"nominal"}}},
  {"data":{"name":"series"},"transform":[{"filter":"datum.p==='WS'"},{"calculate":"2*PI*datum.i/11","as":"a"},{"calculate":"datum.v==null?null:datum.v/25000*sin(datum.a)","as":"x"},{"calculate":"datum.v==null?null:datum.v/25000*cos(datum.a)","as":"y"}],
   "mark":{"type":"line","strokeWidth":3,"invalid":"break-paths-filter-domains"},
   "encoding":{"order":{"field":"i","type":"quantitative"},"color":{"field":"s","type":"nominal","scale":{"domain":["agriculture","mining","construction"],"range":["#4F81BD","#C0504D","#9BBB59"]},
     "legend":{"orient":"none","legendX":431,"legendY":125,"title":null,"symbolType":"stroke","symbolSize":1000,"symbolStrokeWidth":3,"labelFont":"Lato","labelFontSize":14,"labelColor":"black","rowPadding":3.5,"labelOffset":3,"padding":0}}}},
  {"data":{"name":"ticks"},"transform":[{"filter":"datum.p==='WS'"},{"calculate":"0","as":"x"},{"calculate":"datum.t/25000","as":"y"}],
   "mark":{"type":"text","font":"Lato","fontSize":14,"color":"black","align":"right","baseline":"middle","dx":-16},"encoding":{"text":{"field":"t","type":"quantitative","format":"d"}}}
 ]},
{"width":560,"height":345,
 "title":{"text":"managers","anchor":"end","orient":"top","offset":-79,"dx":-24,"baseline":"alphabetic","font":"Lato","fontSize":26,"fontWeight":"bold","color":"black"},
 "encoding":{"x":{"field":"x","type":"quantitative","scale":{"domain":[-1.606,2.636],"nice":false,"zero":false},"axis":null},
             "y":{"field":"y","type":"quantitative","scale":{"domain":[-1.2576,1.356],"nice":false,"zero":false},"axis":null}},
 "layer":[
  {"data":{"name":"cats"},"transform":[{"filter":"datum.p==='WM'"},{"flatten":["lv"]},{"calculate":"2*PI*datum.i/11","as":"a"},{"calculate":"datum.lv/50000*sin(datum.a)","as":"x"},{"calculate":"datum.lv/50000*cos(datum.a)","as":"y"}],
   "mark":{"type":"line","interpolate":"linear-closed","color":"#888888","strokeWidth":1},"encoding":{"detail":{"field":"lv","type":"nominal"},"order":{"field":"i","type":"quantitative"}}},
  {"data":{"name":"cats"},"transform":[{"filter":"datum.p==='WM'"},{"calculate":"2*PI*datum.i/11","as":"a"},{"calculate":"0","as":"x"},{"calculate":"0","as":"y"},{"calculate":"sin(datum.a)","as":"x2"},{"calculate":"cos(datum.a)","as":"y2"}],
   "mark":{"type":"rule","color":"#888888","strokeWidth":1},"encoding":{"x2":{"field":"x2"},"y2":{"field":"y2"}}},
  {"data":{"name":"cats"},"transform":[{"filter":"datum.p==='WM'"},{"calculate":"2*PI*datum.i/11","as":"a"},{"filter":"abs(sin(datum.a))<0.01"},{"calculate":"sin(datum.a)","as":"x"},{"calculate":"cos(datum.a)*(1+16/132)","as":"y"}],
   "mark":{"type":"text","font":"Lato","fontSize":14,"color":"black","align":"center","baseline":"middle"},"encoding":{"text":{"field":"c","type":"nominal"}}},
  {"data":{"name":"cats"},"transform":[{"filter":"datum.p==='WM'"},{"calculate":"2*PI*datum.i/11","as":"a"},{"filter":"sin(datum.a)>=0.01"},{"calculate":"sin(datum.a)","as":"x"},{"calculate":"cos(datum.a)+(7*cos(datum.a)*abs(cos(datum.a))+2*cos(datum.a))/132","as":"y"}],
   "mark":{"type":"text","font":"Lato","fontSize":14,"color":"black","align":"left","baseline":"middle","dx":2},"encoding":{"text":{"field":"c","type":"nominal"}}},
  {"data":{"name":"cats"},"transform":[{"filter":"datum.p==='WM'"},{"calculate":"2*PI*datum.i/11","as":"a"},{"filter":"sin(datum.a)<=-0.01"},{"calculate":"sin(datum.a)","as":"x"},{"calculate":"cos(datum.a)+(7*cos(datum.a)*abs(cos(datum.a))+2*cos(datum.a))/132","as":"y"}],
   "mark":{"type":"text","font":"Lato","fontSize":14,"color":"black","align":"right","baseline":"middle","dx":-2},"encoding":{"text":{"field":"c","type":"nominal"}}},
  {"data":{"name":"series"},"transform":[{"filter":"datum.p==='WM'"},{"calculate":"2*PI*datum.i/11","as":"a"},{"calculate":"datum.v==null?null:datum.v/50000*sin(datum.a)","as":"x"},{"calculate":"datum.v==null?null:datum.v/50000*cos(datum.a)","as":"y"}],
   "mark":{"type":"line","strokeWidth":3,"invalid":"break-paths-filter-domains"},
   "encoding":{"order":{"field":"i","type":"quantitative"},"color":{"field":"s","type":"nominal","scale":{"domain":["agriculture","mining","construction"],"range":["#4F81BD","#C0504D","#9BBB59"]},
     "legend":{"orient":"none","legendX":428,"legendY":135,"title":null,"symbolType":"stroke","symbolSize":1000,"symbolStrokeWidth":3,"labelFont":"Lato","labelFontSize":14,"labelColor":"black","rowPadding":3.5,"labelOffset":3,"padding":0}}}},
  {"data":{"name":"ticks"},"transform":[{"filter":"datum.p==='WM'"},{"calculate":"0","as":"x"},{"calculate":"datum.t/50000","as":"y"}],
   "mark":{"type":"text","font":"Lato","fontSize":14,"color":"black","align":"right","baseline":"middle","dx":-16},"encoding":{"text":{"field":"t","type":"quantitative","format":"d"}}}
 ]}
 ]}
],
"spacing":2,
"resolve":{"scale":{"x":"independent","y":"independent","color":"independent"},"legend":{"color":"independent"}}
}
